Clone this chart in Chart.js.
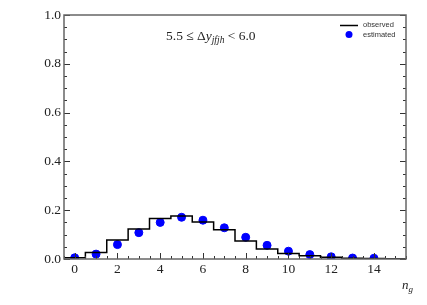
<!DOCTYPE html>
<html>
<head>
<meta charset="utf-8">
<script src="https://cdn.jsdelivr.net/npm/chart.js@4"></script>
<style>
  body { margin: 0; background: #fff; }
  #wrap { width: 427px; height: 305px; }
</style>
</head>
<body>
<div id="wrap"><canvas id="chart"></canvas></div>
<script>
// bins n_g = 0..15
const nBins = [0, 1, 2, 3, 4, 5, 6, 7, 8, 9, 10, 11, 12, 13, 14, 15]
const observed = [0.005, 0.027, 0.078, 0.123, 0.166, 0.176, 0.152, 0.120, 0.074, 0.041, 0.023, 0.013, 0.007, 0.003, 0.002, 0.001]
const estimatedN = [0, 1, 2, 3, 4, 5, 6, 7, 8, 9, 10, 11, 12, 13, 14]
const estimated = [0.005, 0.020, 0.059, 0.108, 0.150, 0.171, 0.159, 0.128, 0.089, 0.056, 0.032, 0.018, 0.009, 0.004, 0.003]
const xTicks = [0, 2, 4, 6, 8, 10, 12, 14]
const yTicks = [0.0, 0.2, 0.4, 0.6, 0.8, 1.0]

// histogram as steps: first point at the left edge, then each bin's right edge
function stepPoints(bins, vals) {
  const pts = [{ x: bins[0] - 0.5, y: vals[0] }]
  bins.forEach((n, i) => pts.push({ x: n + 0.5, y: vals[i] }))
  return pts
}

const frame = {
  id: 'frame',
  afterDraw(chart) {
    const ctx = chart.ctx
    const a = chart.chartArea
    const xs = chart.scales.x
    const ys = chart.scales.y
    ctx.save()
    ctx.strokeStyle = '#333'
    ctx.lineWidth = 1
    // x ticks (inward, bottom)
    for (let v = -0.5; v <= 15.5; v += 0.5) {
      const px = Math.round(xs.getPixelForValue(v)) + 0.5
      const len = xTicks.includes(v) ? 6 : 3
      ctx.beginPath(); ctx.moveTo(px, a.bottom); ctx.lineTo(px, a.bottom - len); ctx.stroke()
    }
    // y ticks (inward, left and right)
    for (let k = 0; k <= 20; k++) {
      const v = k * 0.05
      const py = Math.round(ys.getPixelForValue(v)) + 0.5
      const len = k % 4 === 0 ? 6 : 3
      ctx.beginPath(); ctx.moveTo(a.left, py); ctx.lineTo(a.left + len, py); ctx.stroke()
      ctx.beginPath(); ctx.moveTo(a.right, py); ctx.lineTo(a.right - len, py); ctx.stroke()
    }
    ctx.strokeStyle = '#666'
    ctx.lineWidth = 1.5
    ctx.strokeRect(a.left, a.top, a.right - a.left, a.bottom - a.top)

    // annotation
    ctx.fillStyle = '#222'
    ctx.textBaseline = 'alphabetic'
    ctx.textAlign = 'left'
    let x = 166, y = 40
    ctx.font = '13.5px "Liberation Serif"'
    ctx.fillText('5.5 \u2264 \u0394', x, y); x += ctx.measureText('5.5 \u2264 \u0394').width
    ctx.font = 'italic 13.5px "Liberation Serif"'
    ctx.fillText('y', x, y); x += ctx.measureText('y').width
    ctx.font = 'italic 9.5px "Liberation Serif"'
    ctx.fillText('jfjh', x, y + 3); x += ctx.measureText('jfjh').width
    ctx.font = '13.5px "Liberation Serif"'
    ctx.fillText(' < 6.0', x, y)

    // legend
    ctx.strokeStyle = '#000'
    ctx.lineWidth = 1.5
    ctx.beginPath(); ctx.moveTo(340, 25.5); ctx.lineTo(358, 25.5); ctx.stroke()
    ctx.fillStyle = '#0000ff'
    ctx.beginPath(); ctx.arc(349, 34.5, 3.5, 0, Math.PI * 2); ctx.fill()
    ctx.fillStyle = '#333'
    ctx.font = '7.5px "Liberation Sans"'
    ctx.textBaseline = 'middle'
    ctx.fillText('observed', 363, 25)
    ctx.fillText('estimated', 363, 35)

    // x axis title
    ctx.fillStyle = '#222'
    ctx.textBaseline = 'alphabetic'
    ctx.font = 'italic 13px "Liberation Serif"'
    ctx.fillText('n', 402, 289)
    ctx.font = 'italic 9px "Liberation Serif"'
    ctx.fillText('g', 408.5, 292)
    ctx.restore()
  }
}

new Chart(document.getElementById('chart'), {
  type: 'scatter',
  data: {
    datasets: [
      {
        type: 'line',
        label: 'observed',
        data: stepPoints(nBins, observed),
        stepped: 'after',
        borderColor: '#000',
        borderWidth: 1.5,
        pointRadius: 0,
        fill: false
      },
      {
        label: 'estimated',
        data: estimatedN.map((n, i) => ({ x: n, y: estimated[i] })),
        backgroundColor: '#0000ff',
        borderColor: '#0000ff',
        pointRadius: 4,
        pointHoverRadius: 4
      }
    ]
  },
  options: {
    responsive: true,
    maintainAspectRatio: false,
    animation: false,
    events: [],
    layout: { padding: { top: 15, right: 21, left: 0, bottom: 0 } },
    plugins: { legend: { display: false }, tooltip: { enabled: false } },
    scales: {
      x: {
        type: 'linear',
        min: -0.5,
        max: 15.5,
        grid: { display: false, drawTicks: false },
        border: { display: false },
        afterBuildTicks: s => { s.ticks = xTicks.map(v => ({ value: v })) },
        afterFit: s => { s.height = 46 },
        ticks: {
          padding: 2,
          maxRotation: 0,
          color: '#222',
          font: { family: 'Liberation Serif', size: 13.5 },
          callback: v => String(v)
        }
      },
      y: {
        min: 0,
        max: 1,
        grid: { display: false, drawTicks: false },
        border: { display: false },
        afterBuildTicks: s => { s.ticks = yTicks.map(v => ({ value: v })) },
        afterFit: s => { s.width = 64 },
        ticks: {
          padding: 3,
          color: '#222',
          font: { family: 'Liberation Serif', size: 13.5 },
          callback: v => v.toFixed(1)
        }
      }
    }
  },
  plugins: [frame]
})
</script>
</body>
</html>
